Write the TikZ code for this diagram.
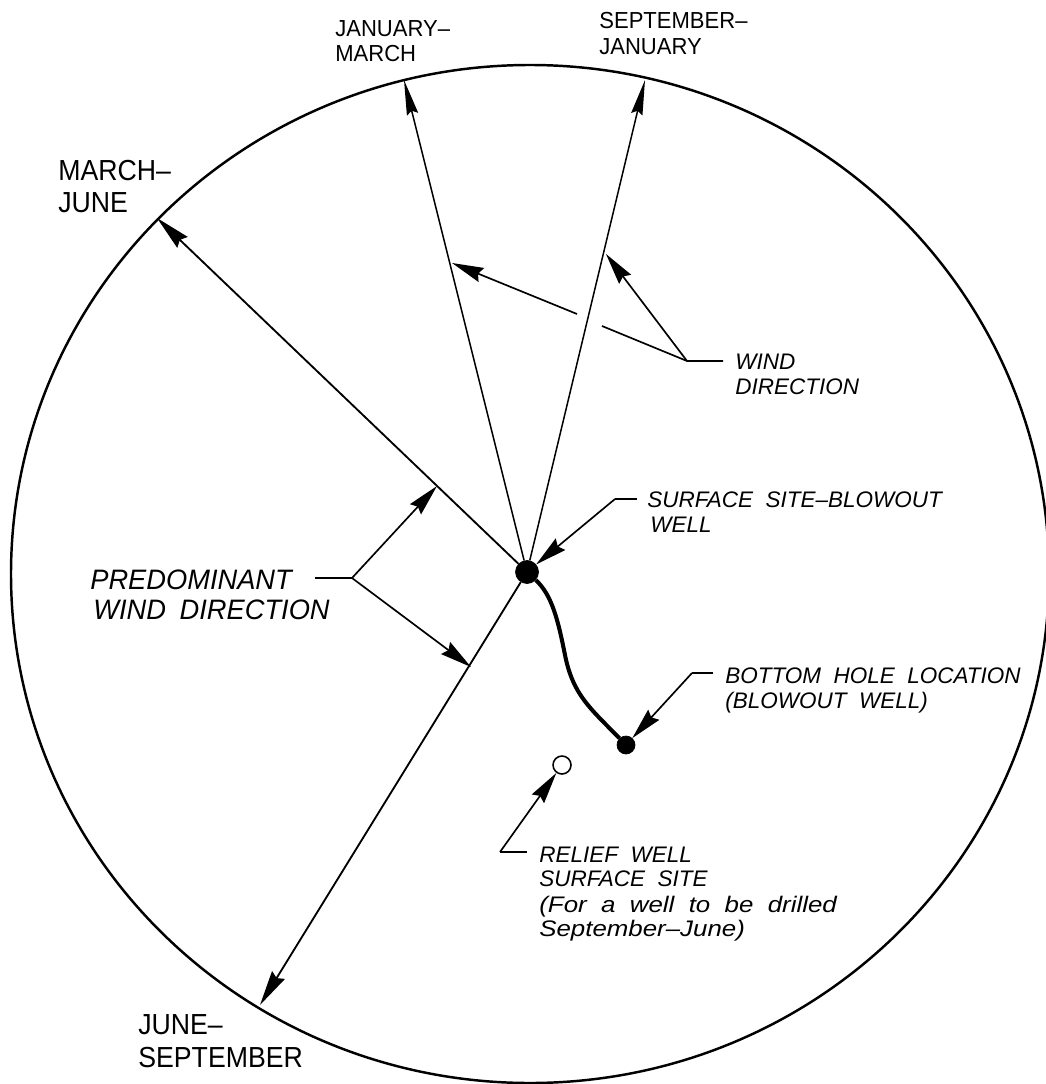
\documentclass[tikz,border=0pt]{standalone}
\usepackage{fontspec}
\usepackage{xcolor}
\usetikzlibrary{arrows.meta,calc,positioning}
\setmainfont{Liberation Sans}
\newfontfamily\platefont[FakeStretch=0.92]{Liberation Sans}
\newfontfamily\platesmall[FakeStretch=0.95]{Liberation Sans}
\newfontfamily\noteslant[FakeStretch=1.0,WordSpace=2.0]{Liberation Sans Italic}
\newfontfamily\noteslantwide[FakeStretch=1.15,WordSpace=2.0]{Liberation Sans Italic}
\newfontfamily\noteslantbig[FakeStretch=0.97,WordSpace=1.8]{Liberation Sans Italic}
\definecolor{plateink}{HTML}{000000}

\begin{document}
\begin{tikzpicture}[
    x=0.02cm,
    y=-0.02cm,
    ray/.style={-{Stealth[length=20pt,width=6.5pt,inset=2pt]}, line width=0.85pt, draw=plateink},
    bigray/.style={-{Stealth[length=20pt,width=8.5pt,inset=2pt]}, line width=1.05pt, draw=plateink},
    leader/.style={-{Stealth[length=18pt,width=8.5pt,inset=2pt]}, line width=0.95pt, draw=plateink},
    tail/.style={line width=0.95pt, draw=plateink},
    month/.style={anchor=base west, font=\platefont\fontsize{16.5}{16.5}\selectfont, text=plateink, inner sep=0pt},
    monthsm/.style={anchor=base west, font=\platesmall\fontsize{13.2}{13.2}\selectfont, text=plateink, inner sep=0pt},
    note/.style={anchor=base west, font=\noteslant\fontsize{12.8}{12.8}\selectfont, text=plateink, inner sep=0pt},
    notewide/.style={anchor=base west, font=\noteslantwide\fontsize{12.8}{12.8}\selectfont, text=plateink, inner sep=0pt},
    notebig/.style={anchor=base west, font=\noteslantbig\fontsize{16}{16}\selectfont, text=plateink, inner sep=0pt},
    welldot/.style={circle, fill=plateink, draw=plateink, inner sep=0pt}
  ]
    \useasboundingbox (0,0) rectangle (1045,1084);
    \fill[white] (0,0) rectangle (1045,1084);

    \draw[plateink, line width=1.4pt] (530,574) ellipse [x radius=519, y radius=509];

    \node[welldot, minimum size=0.46cm] (well) at (527,572) {};
    \node[welldot, minimum size=0.36cm] (bottomhole) at (626,745) {};
    \node[circle, draw=plateink, fill=white, line width=0.9pt, minimum size=0.36cm, inner sep=0pt] (relief) at (562,765) {};

    \coordinate (janmar) at (404,80);
    \coordinate (sepjan) at (645,80);
    \coordinate (marjun) at (157,218);
    \coordinate (junsep) at (260,1005);

    \draw[ray] (well) -- (janmar);
    \draw[ray] (well) -- (sepjan);
    \draw[bigray] (well) -- (marjun);
    \draw[bigray] (well) -- (junsep);

    % well path
    \draw[plateink, line width=2.3pt] (well) .. controls (552,595) and (558,620) .. (565,655) .. controls (573,695) and (590,708) .. (bottomhole);

    % wind direction
    \coordinate (windelbow) at (687,361);
    \coordinate (windend) at (723,361);
    \coordinate (windbreak) at (602,326);
    \coordinate (windresume) at (577,314);
    \coordinate (windtipa) at (452,263);
    \coordinate (windtipb) at (606,254);
    \draw[tail] (windend) -- (windelbow) -- (windbreak);
    \draw[leader] (windelbow) -- (windtipb);
    \draw[leader] (windresume) -- (windtipa);

    % predominant
    \coordinate (predelbow) at (352,578);
    \coordinate (predend) at (315,578);
    \coordinate (predtipa) at (437,486);
    \coordinate (predtipb) at (471,667);
    \draw[tail] (predend) -- (predelbow);
    \draw[leader] (predelbow) -- (predtipa);
    \draw[leader] (predelbow) -- (predtipb);

    % surface site
    \coordinate (surfend) at (637,499);
    \coordinate (surfelbow) at (615,499);
    \draw[tail] (surfend) -- (surfelbow);
    \draw[leader] (surfelbow) -- (well);

    % bottom hole
    \coordinate (holeend) at (713,673);
    \coordinate (holeelbow) at (692,673);
    \draw[tail] (holeend) -- (holeelbow);
    \draw[leader] (holeelbow) -- (bottomhole);

    % relief well
    \coordinate (reliefend) at (527,852);
    \coordinate (reliefelbow) at (500,852);
    \draw[tail] (reliefend) -- (reliefelbow);
    \draw[leader] (reliefelbow) -- (relief);

    \node[monthsm] (L-janmara) at (335,37) {JANUARY–};
    \node[monthsm] (L-janmarb) at (335,62) {MARCH};
    \node[monthsm] (L-sepjana) at (599,29) {SEPTEMBER–};
    \node[monthsm] (L-sepjanb) at (599,55) {JANUARY};
    \node[month] (L-marjuna) at (58,181) {MARCH–};
    \node[month] (L-marjunb) at (58,213) {JUNE};
    \node[month] (L-junsepa) at (138,1034) {JUNE–};
    \node[month] (L-junsepb) at (138,1067) {SEPTEMBER};

    \node[note] (L-winda) at (735,369) {WIND};
    \node[note] (L-windb) at (735,394) {DIRECTION};
    \node[note] (L-surfa) at (647,507) {SURFACE SITE–BLOWOUT};
    \node[note] (L-surfb) at (650,532) {WELL};
    \node[note] (L-holea) at (725,683) {BOTTOM HOLE LOCATION};
    \node[note] (L-holeb) at (725,708) {(BLOWOUT WELL)};
    \node[notebig] (L-preda) at (90,589) {PREDOMINANT};
    \node[notebig] (L-predb) at (93,619) {WIND DIRECTION};
    \node[note] (L-reliefa) at (539,862) {RELIEF WELL};
    \node[note] (L-reliefb) at (539,886) {SURFACE SITE};
    \node[notewide] (L-reliefc) at (539,912) {(For a well to be drilled};
    \node[notewide] (L-reliefd) at (539,936) {September–June)};

\end{tikzpicture}
\end{document}
